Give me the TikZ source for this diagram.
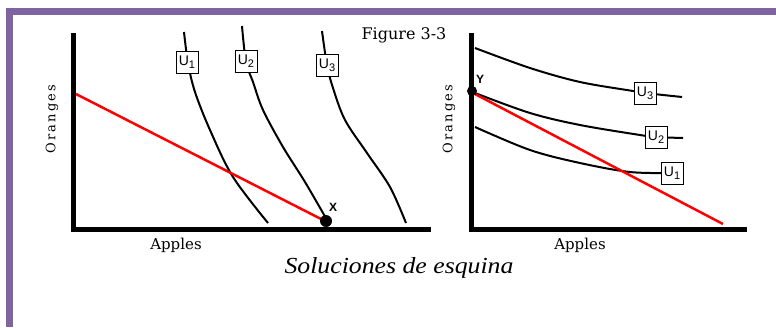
\documentclass[tikz,border=0pt]{standalone}
\usepackage{fontspec}
\setmainfont{DejaVu Serif}
\newfontfamily\labelfont{Liberation Sans}
\newfontfamily\capfont{Liberation Serif}
\usepackage{tikz}
\definecolor{framepurple}{HTML}{8064A2}
\newcommand{\ulab}[1]{U\raisebox{-3pt}{\fontsize{11}{11}\selectfont #1}}

\begin{document}
\begin{tikzpicture}[x=1pt,y=-1pt,
    axis/.style={line width=5pt},
    budget/.style={line width=2.5pt,red},
    curve/.style={line width=2pt,smooth,tension=0.55},
    ubox/.style={draw,line width=0.9pt,fill=white,inner sep=1pt,minimum width=22pt,minimum height=22pt,font=\labelfont\fontsize{14}{14}\selectfont},
    axlabel/.style={font=\fontsize{15}{15}\selectfont},
    dotlabel/.style={font=\labelfont\bfseries\fontsize{12}{12}\selectfont}]
    \useasboundingbox (0,0) rectangle (776,327);
    \fill[white] (0,0) rectangle (776,327);
    % frame
    \fill[framepurple] (6,8) rectangle (776,15);
    \fill[framepurple] (6,8) rectangle (13,327);

    % left panel
    \draw[curve] plot coordinates {(184,32) (188,63) (195,92) (210,130) (233,177) (268,223)};
    \draw[curve] plot coordinates {(242,26) (246,62) (253,82) (263,110) (283,147) (305,182) (327,220)};
    \draw[curve] plot coordinates {(322,31) (327,65) (333,88) (345,120) (367,153) (390,187) (406,223)};
    \draw[budget] (76,94) -- (325,221);
    \draw[axis] (73.5,33) -- (73.5,229) -- (431,229) ;
    \fill (326,221) circle (6);
    \node[dotlabel] (X) at (333,207) {X};
    \node[ubox] (lu1) at (187,62) {\ulab{1}};
    \node[ubox] (lu2) at (246,61) {\ulab{2}};
    \node[ubox] (lu3) at (327,65) {\ulab{3}};
    \node[axlabel,font=\fontsize{13}{13}\selectfont,rotate=90] (lo) at (52,119) {O\,r\,a\,n\,g\,e\,s};
    \node[axlabel] (la) at (176,245) {Apples};
    \node[axlabel,font=\fontsize{16}{16}\selectfont] (fig) at (404,35) {Figure 3-3};

    % right panel
    \draw[curve] plot coordinates {(475,48) (530,68) (580,82) (633,91) (645,93) (682,97)};
    \draw[curve] plot coordinates {(475,93) (530,113) (580,125) (640,135) (656,137) (683,138)};
    \draw[curve] plot coordinates {(475,127) (530,150) (580,163) (630,172) (672,173)};
    \draw[budget] (475,94) -- (723,224);
    \draw[axis] (471.5,33) -- (471.5,229) -- (747,229);
    \fill (472,91) circle (5);
    \node[dotlabel] (Y) at (480,79) {Y};
    \node[ubox] (ru3) at (645,93) {\ulab{3}};
    \node[ubox] (ru2) at (656,137) {\ulab{2}};
    \node[ubox] (ru1) at (672,173) {\ulab{1}};
    \node[axlabel,font=\fontsize{13}{13}\selectfont,rotate=90] (ro) at (449,119) {O\,r\,a\,n\,g\,e\,s};
    \node[axlabel] (ra) at (580,245) {Apples};

    \node[font=\capfont\itshape\fontsize{23}{23}\selectfont,xscale=1.12] (cap) at (399,268) {Soluciones de esquina};
  \end{tikzpicture}
\end{document}
